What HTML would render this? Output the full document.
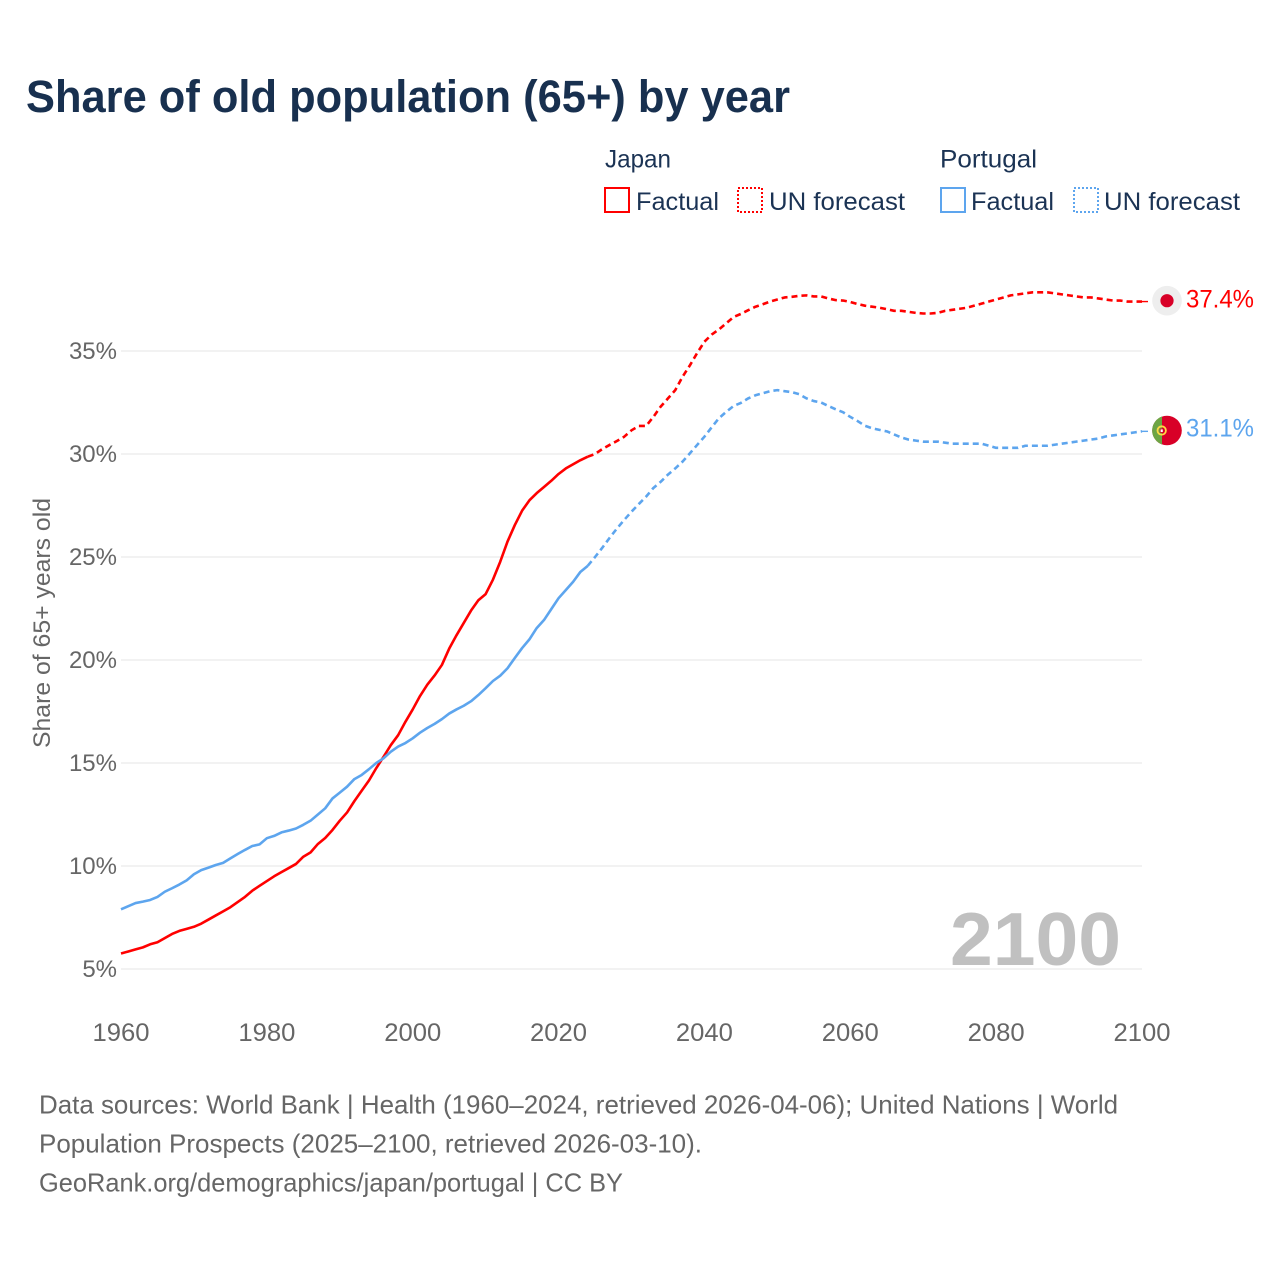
<!DOCTYPE html>
<html lang="en">
<head>
<meta charset="utf-8">
<title>Share of old population (65+) by year</title>
<style>
html,body{margin:0;padding:0;background:#fff;width:1280px;height:1280px;overflow:hidden}
svg{display:block}
text{font-family:"Liberation Sans",sans-serif}
.lg{font-size:25px;fill:#1b3354}
.tick{font-size:25px;fill:#666}
.foot{font-size:26px;fill:#666}
</style>
</head>
<body>
<svg id="chart" xmlns="http://www.w3.org/2000/svg" width="1280" height="1280" viewBox="0 0 1280 1280">
  <rect x="0" y="0" width="1280" height="1280" fill="#fff"/>
  <text x="26" y="112" font-size="45" font-weight="700" fill="#18304f" textLength="764" lengthAdjust="spacingAndGlyphs">Share of old population (65+) by year</text>

  <g>
    <text class="lg" x="605" y="167.5" textLength="66" lengthAdjust="spacingAndGlyphs">Japan</text>
    <rect x="605" y="188" width="24" height="24" fill="none" stroke="#ff0000" stroke-width="2"/>
    <text class="lg" x="636" y="210" textLength="83" lengthAdjust="spacingAndGlyphs">Factual</text>
    <rect x="738" y="188" width="24" height="24" fill="none" stroke="#ff0000" stroke-width="2" stroke-dasharray="2 2"/>
    <text class="lg" x="769" y="210" textLength="136" lengthAdjust="spacingAndGlyphs">UN forecast</text>
    <text class="lg" x="940" y="167.5" textLength="97" lengthAdjust="spacingAndGlyphs">Portugal</text>
    <rect x="941" y="188" width="24" height="24" fill="none" stroke="#5da5ee" stroke-width="2"/>
    <text class="lg" x="971" y="210" textLength="83" lengthAdjust="spacingAndGlyphs">Factual</text>
    <rect x="1074" y="188" width="24" height="24" fill="none" stroke="#5da5ee" stroke-width="2" stroke-dasharray="2 2"/>
    <text class="lg" x="1104" y="210" textLength="136" lengthAdjust="spacingAndGlyphs">UN forecast</text>
  </g>

  <text transform="translate(50,623) rotate(-90)" text-anchor="middle" font-size="24" fill="#666" textLength="250" lengthAdjust="spacingAndGlyphs">Share of 65+ years old</text>

  <g id="grid"></g>
  <g id="yticks"></g>
  <g id="xticks"></g>

  <text x="950" y="965" font-size="75" font-weight="700" fill="#c0c0c0" textLength="171" lengthAdjust="spacingAndGlyphs">2100</text>

  <g id="series"></g>

  <g>
    <circle cx="1167" cy="300.7" r="14.8" fill="#eeeeee"/>
    <circle cx="1167" cy="300.7" r="6.6" fill="#d80027"/>
  </g>
  <g>
    <circle cx="1167" cy="430.5" r="14.8" fill="#d80027"/>
    <path d="M1162 416.55A14.8 14.8 0 0 0 1162 444.45Z" fill="#6da544"/>
    <circle cx="1161.7" cy="430.5" r="4.2" fill="none" stroke="#ffda44" stroke-width="1.8"/>
    <rect x="1160.2" y="429" width="3" height="3.4" fill="#fff" stroke="#d80027" stroke-width="0.8"/>
  </g>
  <text id="label-japan" x="1186" y="307.5" font-size="25" fill="#ff0000" textLength="68" lengthAdjust="spacingAndGlyphs"></text>
  <text id="label-portugal" x="1186" y="436.5" font-size="25" fill="#5da5ee" textLength="68" lengthAdjust="spacingAndGlyphs"></text>

  <g>
    <text class="foot" x="39" y="1113.5" textLength="1079" lengthAdjust="spacingAndGlyphs">Data sources: World Bank | Health (1960–2024, retrieved 2026-04-06); United Nations | World</text>
    <text class="foot" x="39" y="1152.5" textLength="663" lengthAdjust="spacingAndGlyphs">Population Prospects (2025–2100, retrieved 2026-03-10).</text>
    <text class="foot" x="39" y="1191.5" textLength="584" lengthAdjust="spacingAndGlyphs">GeoRank.org/demographics/japan/portugal | CC BY</text>
  </g>
</svg>
<script>
const factualStartYear = 1960;
const forecastStartYear = 2025;
const xTickYears = [1960, 1980, 2000, 2020, 2040, 2060, 2080, 2100];
const yTickValues = [5, 10, 15, 20, 25, 30, 35];
const japanFactual = [
  5.75,5.85,5.95,6.05,6.2,6.3,6.5,6.7,6.85,6.95,
  7.05,7.2,7.4,7.6,7.8,8.0,8.25,8.5,8.8,9.04,
  9.27,9.5,9.7,9.9,10.1,10.45,10.66,11.07,11.36,11.75,
  12.2,12.6,13.15,13.65,14.15,14.75,15.3,15.87,16.35,17.0,
  17.6,18.25,18.8,19.25,19.76,20.55,21.2,21.8,22.4,22.9,
  23.2,23.9,24.77,25.75,26.55,27.25,27.75,28.1,28.4,28.7,
  29.03,29.3,29.5,29.7,29.87
];
const japanForecast = [
  30.0,30.24,30.44,30.63,30.84,31.15,31.36,31.36,31.8,32.3,
  32.7,33.1,33.75,34.3,34.9,35.45,35.8,36.05,36.35,36.65,
  36.8,36.98,37.15,37.27,37.4,37.5,37.6,37.63,37.68,37.7,
  37.65,37.65,37.55,37.47,37.45,37.38,37.28,37.2,37.15,37.1,
  37.03,36.95,36.95,36.9,36.85,36.82,36.82,36.85,36.95,37.0,
  37.05,37.1,37.2,37.3,37.4,37.5,37.6,37.7,37.75,37.8,
  37.85,37.85,37.85,37.8,37.75,37.7,37.65,37.6,37.6,37.55,
  37.5,37.45,37.45,37.4,37.4,37.4
];
const portugalFactual = [
  7.9,8.05,8.2,8.27,8.35,8.5,8.75,8.92,9.1,9.3,
  9.6,9.8,9.92,10.05,10.15,10.37,10.58,10.78,10.97,11.05,
  11.35,11.46,11.63,11.72,11.82,12.0,12.2,12.5,12.8,13.28,
  13.56,13.85,14.22,14.42,14.7,15.0,15.23,15.55,15.8,15.97,
  16.2,16.47,16.7,16.9,17.13,17.4,17.6,17.78,18.0,18.3,
  18.63,18.98,19.24,19.6,20.1,20.58,21.0,21.55,21.94,22.47,
  23.0,23.4,23.8,24.28,24.57
];
const portugalForecast = [
  25.0,25.45,25.93,26.38,26.8,27.2,27.57,27.93,28.35,28.65,
  29.0,29.3,29.63,30.03,30.44,30.84,31.3,31.74,32.05,32.33,
  32.48,32.7,32.85,32.95,33.05,33.1,33.05,33.0,32.9,32.7,
  32.57,32.5,32.33,32.17,32.03,31.8,31.6,31.37,31.25,31.17,
  31.1,30.95,30.8,30.7,30.65,30.6,30.6,30.6,30.55,30.5,
  30.5,30.5,30.5,30.5,30.4,30.3,30.3,30.3,30.3,30.4,
  30.4,30.4,30.4,30.45,30.5,30.55,30.6,30.65,30.7,30.75,
  30.85,30.9,30.95,31.0,31.05,31.1
];

const SVGNS = 'http://www.w3.org/2000/svg';
const xScale = function (year) { return 121 + (year - 1960) * (1142 - 121) / 140; };
const yScale = function (v) { return 969 - (v - 5) * (969 - 351) / 30; };

function points(values, startYear, prefix) {
  const pts = prefix ? prefix.slice() : [];
  values.forEach(function (v, i) {
    pts.push(xScale(startYear + i).toFixed(2) + ',' + yScale(v).toFixed(2));
  });
  return pts;
}
function makeLine(parent, pts, color, dash) {
  const el = document.createElementNS(SVGNS, 'polyline');
  el.setAttribute('points', pts.join(' '));
  el.setAttribute('fill', 'none');
  el.setAttribute('stroke', color);
  el.setAttribute('stroke-width', '2.6');
  el.setAttribute('stroke-linejoin', 'round');
  if (dash) el.setAttribute('stroke-dasharray', dash);
  parent.appendChild(el);
  return el;
}

const grid = document.getElementById('grid');
const yticks = document.getElementById('yticks');
yTickValues.forEach(function (v) {
  const line = document.createElementNS(SVGNS, 'line');
  
  
  line.setAttribute('x1', xScale(1960));
  line.setAttribute('x2', xScale(2100));
  line.setAttribute('y1', yScale(v));
  line.setAttribute('y2', yScale(v));
  line.setAttribute('stroke', '#eeeeee');
  line.setAttribute('stroke-width', '1.6');
  grid.appendChild(line);
  const t = document.createElementNS(SVGNS, 'text');
  
  
  t.setAttribute('class', 'tick');
  t.setAttribute('x', '117');
  t.setAttribute('y', yScale(v) + 8);
  t.setAttribute('text-anchor', 'end');
  t.style.fontSize = '24px';
  t.textContent = v + '%';
  yticks.appendChild(t);
});
const xticks = document.getElementById('xticks');
xTickYears.forEach(function (y) {
  const t = document.createElementNS(SVGNS, 'text');
  
  
  t.setAttribute('class', 'tick');
  t.setAttribute('x', xScale(y));
  t.setAttribute('y', '1041');
  t.setAttribute('text-anchor', 'middle');
  t.setAttribute('textLength', '57');
  t.setAttribute('lengthAdjust', 'spacingAndGlyphs');
  t.textContent = y;
  xticks.appendChild(t);
});

const series = document.getElementById('series');
const lastFactualYear = function (arr) { return factualStartYear + arr.length - 1; };

const jFact = makeLine(series, points(japanFactual, factualStartYear), '#ff0000');


const pFact = makeLine(series, points(portugalFactual, factualStartYear), '#5da5ee');



const jStart = xScale(lastFactualYear(japanFactual)).toFixed(2) + ',' + yScale(japanFactual[japanFactual.length - 1]).toFixed(2);
const jFore = makeLine(series, points(japanForecast, forecastStartYear, [jStart]), '#ff0000', '6 4');


const pStart = xScale(lastFactualYear(portugalFactual)).toFixed(2) + ',' + yScale(portugalFactual[portugalFactual.length - 1]).toFixed(2);
const pFore = makeLine(series, points(portugalForecast, forecastStartYear, [pStart]), '#5da5ee', '6 4');



const jLast = japanForecast[japanForecast.length - 1];
const pLast = portugalForecast[portugalForecast.length - 1];
const jConn = makeLine(series, [xScale(2100) + ',' + yScale(jLast), '1150,' + yScale(jLast)], '#ff0000', '6 2');


jConn.setAttribute('stroke-width', '1.4');
const pConn = makeLine(series, [xScale(2100) + ',' + yScale(pLast), '1150,' + yScale(pLast)], '#5da5ee', '6 2');


pConn.setAttribute('stroke-width', '1.4');

document.getElementById('label-japan').textContent = jLast.toFixed(1) + '%';
document.getElementById('label-portugal').textContent = pLast.toFixed(1) + '%';
</script>
</body>
</html>
